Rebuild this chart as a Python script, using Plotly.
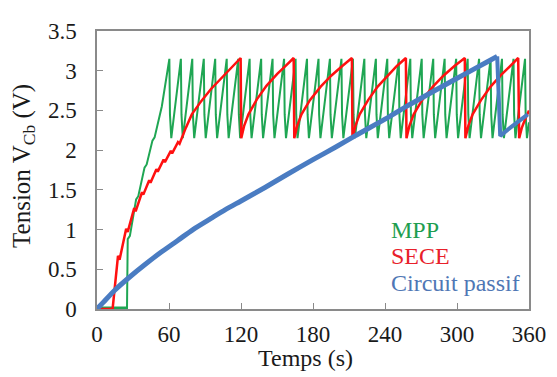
import plotly.graph_objects as go

# Tension du condensateur Cb en fonction du temps (s)
mpp_t = [0, 25.0, 25.6, 27.4, 32.6, 34.4, 39.6, 41.4, 46.2, 48.0, 54.0,
         60.3, 60.8, 61.9, 69.9, 70.4, 71.5, 79.4, 79.9, 81.0, 89.0, 89.5, 90.6,
         98.5, 99.0, 100.1, 108.1, 108.6, 109.7, 117.7, 118.2, 119.3,
         127.2, 127.7, 128.8, 136.8, 137.3, 138.4, 146.3, 146.8, 147.9,
         155.9, 156.4, 157.5, 165.5, 166.0, 167.1, 175.0, 175.5, 176.6,
         184.6, 185.1, 186.2, 194.1, 194.6, 195.7, 203.7, 204.2, 205.3,
         213.3, 213.8, 214.9, 222.8, 223.3, 224.4, 232.4, 232.9, 234.0,
         241.9, 242.4, 243.5, 251.5, 252.0, 253.1, 261.1, 261.6, 262.7,
         270.6, 271.1, 272.2, 280.2, 280.7, 281.8, 289.7, 290.2, 291.3,
         299.3, 299.8, 300.9, 308.9, 309.4, 310.5, 318.4, 318.9, 320.0,
         328.0, 328.5, 329.6, 337.5, 338.0, 339.1, 347.1, 347.6, 348.7,
         356.7, 357.2, 358.3, 360.0]
mpp_v = [0, 0, 0.88, 0.92, 1.38, 1.42, 1.78, 1.82, 2.12, 2.16, 2.55,
         3.15, 2.45, 2.15, 3.15, 2.45, 2.15, 3.15, 2.45, 2.15, 3.15, 2.45, 2.15,
         3.15, 2.45, 2.15, 3.15, 2.45, 2.15, 3.15, 2.45, 2.15,
         3.15, 2.45, 2.15, 3.15, 2.45, 2.15, 3.15, 2.45, 2.15,
         3.15, 2.45, 2.15, 3.15, 2.45, 2.15, 3.15, 2.45, 2.15,
         3.15, 2.45, 2.15, 3.15, 2.45, 2.15, 3.15, 2.45, 2.15,
         3.15, 2.45, 2.15, 3.15, 2.45, 2.15, 3.15, 2.45, 2.15,
         3.15, 2.45, 2.15, 3.15, 2.45, 2.15, 3.15, 2.45, 2.15,
         3.15, 2.45, 2.15, 3.15, 2.45, 2.15, 3.15, 2.45, 2.15,
         3.15, 2.45, 2.15, 3.15, 2.45, 2.15, 3.15, 2.45, 2.15,
         3.15, 2.45, 2.15, 3.15, 2.45, 2.15, 3.15, 2.45, 2.15,
         3.15, 2.45, 2.15, 2.35]

sece_t = [0, 13.0, 17.5, 18.8, 24.3, 25.6, 31.0, 32.2, 37.5, 38.6, 43.5, 44.6,
          49.5, 50.6, 55.5, 56.6, 61.5, 62.6, 67.5, 68.8, 74.0, 79.0, 87.0,
          95.0, 102.0, 109.0, 115.0, 119.7,
          120.2, 122.7, 126.2, 133.2, 141.2, 150.2, 157.2, 163.9,
          164.4, 166.9, 170.4, 177.4, 186.4, 195.4, 204.4, 212.4,
          212.9, 215.4, 218.9, 225.9, 233.9, 242.9, 249.9, 257.4,
          257.9, 260.4, 263.9, 270.9, 279.9, 288.9, 297.9, 306.5,
          307.0, 309.5, 313.0, 320.0, 328.0, 337.0, 344.0, 351.0,
          351.8, 354.0, 356.5, 360.0]
sece_v = [0, 0, 0.67, 0.62, 1.01, 0.97, 1.27, 1.23, 1.47, 1.44, 1.62, 1.59,
          1.76, 1.73, 1.88, 1.85, 1.99, 1.96, 2.10, 2.08, 2.28, 2.45, 2.62,
          2.77, 2.88, 2.99, 3.08, 3.16,
          2.15, 2.31, 2.45, 2.64, 2.81, 2.96, 3.06, 3.16,
          2.15, 2.31, 2.45, 2.63, 2.80, 2.94, 3.06, 3.16,
          2.15, 2.31, 2.45, 2.63, 2.80, 2.95, 3.06, 3.16,
          2.15, 2.31, 2.45, 2.63, 2.80, 2.94, 3.06, 3.16,
          2.15, 2.31, 2.45, 2.63, 2.80, 2.95, 3.06, 3.16,
          2.15, 2.28, 2.38, 2.50]

passif_t = [0, 5, 15, 27, 40, 53, 67, 80, 95, 107, 120, 140, 158, 180, 199,
            215, 240, 259, 285, 308, 325, 333.5, 336.0, 345, 359]
passif_v = [0, 0.08, 0.24, 0.40, 0.56, 0.71, 0.86, 1.00, 1.14, 1.25, 1.36,
            1.53, 1.69, 1.88, 2.04, 2.18, 2.39, 2.56, 2.78, 2.97, 3.11, 3.18,
            2.18, 2.29, 2.45]

GREEN = "#1FA653"
RED = "#FF1010"
BLUE = "#4A7CC2"
FONT = "Liberation Serif, Times New Roman, serif"

fig = go.Figure()
fig.add_trace(go.Scatter(x=mpp_t, y=mpp_v, mode="lines", name="MPP",
                         line=dict(color=GREEN, width=2)))
# segment initial a 0 V (epais dans l'original)
fig.add_trace(go.Scatter(x=mpp_t[:2], y=mpp_v[:2], mode="lines",
                         line=dict(color=GREEN, width=5), showlegend=False))
fig.add_trace(go.Scatter(x=sece_t, y=sece_v, mode="lines", name="SECE",
                         line=dict(color=RED, width=2.5)))
# courbe de charge lissee, puis la decharge en fin d'essai
fig.add_trace(go.Scatter(x=passif_t[:22], y=passif_v[:22], mode="lines", name="Circuit passif",
                         line=dict(color=BLUE, width=5, shape="spline", smoothing=0.8)))
fig.add_trace(go.Scatter(x=passif_t[21:], y=passif_v[21:], mode="lines", showlegend=False,
                         line=dict(color=BLUE, width=4)))

axis_common = dict(showline=True, linecolor="#8A8A8A", linewidth=1.5, mirror=True,
                   ticks="inside", ticklen=6, tickcolor="#8A8A8A", showgrid=False,
                   zeroline=False, tickfont=dict(family=FONT, size=23, color="#1A1A1A"))

# la page ajoute 8 px de marge autour de la figure
fig.update_layout(
    width=549, height=369,
    font=dict(family=FONT, color="#1A1A1A"),
    plot_bgcolor="white", paper_bgcolor="white",
    margin=dict(l=89, r=20, t=11, b=68),
    showlegend=False,
    xaxis=dict(range=[0, 360], dtick=60, ticklabelstandoff=4, **axis_common),
    yaxis=dict(range=[0, 3.5], dtick=0.5, ticklabelstandoff=14, **axis_common),
)

annotations = [
    dict(text="Temps (s)", x=0.482, y=-0.178, xanchor="center",
         font=dict(family=FONT, size=24, color="#1A1A1A")),
    dict(text="Tension V<sub>Cb</sub> (V)", x=-0.17, y=0.513, xanchor="center",
         textangle=-90, font=dict(family=FONT, size=25, color="#1A1A1A")),
    dict(text="MPP", x=0.677, y=0.283, xanchor="left",
         font=dict(family=FONT, size=24, color="#1E9E50")),
    dict(text="SECE", x=0.677, y=0.192, xanchor="left",
         font=dict(family=FONT, size=24, color="#E8202A")),
    dict(text="Circuit passif", x=0.677, y=0.094, xanchor="left",
         font=dict(family=FONT, size=24, color="#4F77B5")),
]
for a in annotations:
    fig.add_annotation(xref="paper", yref="paper", yanchor="middle", showarrow=False, **a)

fig.write_html("out.html")
